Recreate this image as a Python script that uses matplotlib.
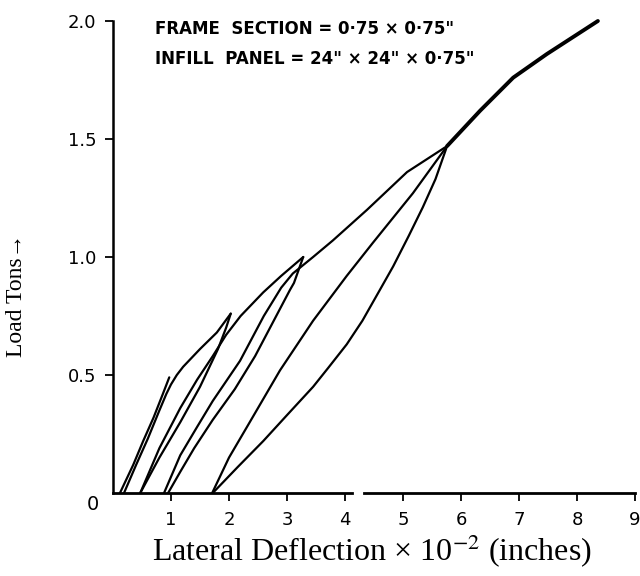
import matplotlib
matplotlib.use('Agg')
import matplotlib.pyplot as plt

plt.rcParams['mathtext.fontset'] = 'stix'

# cyclic load - deflection traces
# x in 10^-2 inches, y in tons
load1_x = [0.12, 0.35, 0.52, 0.70, 0.86, 0.97]
load1_y = [0.0, 0.12, 0.22, 0.32, 0.42, 0.49]

load2_x = [0.19, 0.40, 0.60, 0.80, 0.92, 1.00, 1.10, 1.21, 1.50, 1.79, 2.03]
load2_y = [0.0, 0.12, 0.23, 0.35, 0.42, 0.46, 0.50, 0.535, 0.61, 0.68, 0.76]

unload2_x = [2.03, 1.95, 1.81, 1.50, 1.16, 0.80, 0.47]
unload2_y = [0.76, 0.70, 0.61, 0.45, 0.30, 0.15, 0.0]

load3_x = [0.47, 0.80, 1.16, 1.45, 1.72, 1.95, 2.20, 2.59, 2.90, 3.28]
load3_y = [0.0, 0.19, 0.36, 0.48, 0.58, 0.67, 0.75, 0.85, 0.92, 1.00]

unload3_x = [3.28, 3.12, 3.05, 2.75, 2.45, 2.10, 1.72, 1.40, 1.16, 0.95]
unload3_y = [1.00, 0.89, 0.86, 0.72, 0.58, 0.44, 0.31, 0.19, 0.09, 0.0]

load4_x = [0.88, 1.16, 1.45, 1.72, 2.19, 2.60, 2.90, 3.10, 3.45, 3.79, 4.38, 5.07, 5.76]
load4_y = [0.0, 0.16, 0.28, 0.39, 0.56, 0.75, 0.87, 0.93, 1.00, 1.07, 1.20, 1.36, 1.47]

load5_x = [1.71, 2.00, 2.31, 2.88, 3.45, 4.03, 4.48, 5.17, 5.76]
load5_y = [0.0, 0.15, 0.28, 0.52, 0.73, 0.92, 1.06, 1.27, 1.47]

unload4_x = [1.72, 2.15, 2.59, 3.00, 3.45, 3.71, 4.03, 4.30, 4.60, 4.83,
             5.10, 5.34, 5.56, 5.76]
unload4_y = [0.0, 0.11, 0.22, 0.33, 0.45, 0.53, 0.63, 0.73, 0.86, 0.96,
             1.09, 1.21, 1.33, 1.47]

final_x = [5.76, 6.33, 6.90, 7.48, 8.36]
final_y = [1.47, 1.62, 1.76, 1.86, 2.00]

x_ticks = [1, 2, 3, 4, 5, 6, 7, 8, 9]
y_ticks = [0.5, 1.0, 1.5, 2.0]
y_labels = ['0.5', '1.0', '1.5', '2.0']

fig = plt.figure(figsize=(6.4, 5.76), dpi=100)
ax = fig.add_axes([113 / 640, 1 - 493 / 576, 522 / 640, 472 / 576])
ax.set_xlim(0, 9)
ax.set_ylim(0, 2)
for s in ax.spines.values():
    s.set_visible(False)

curves = [(load1_x, load1_y), (load2_x, load2_y), (unload2_x, unload2_y),
          (load3_x, load3_y), (unload3_x, unload3_y), (load4_x, load4_y),
          (load5_x, load5_y), (unload4_x, unload4_y)]
for cx, cy in curves:
    ax.plot(cx, cy, color='black', lw=1.6, clip_on=False,
            solid_joinstyle='round', solid_capstyle='round')
ax.plot(final_x, final_y, color='black', lw=2.8, clip_on=False,
        solid_joinstyle='round', solid_capstyle='round')

# hand drawn axes (x axis has a break after 4)
ax.plot([0, 0], [0, 2.0], color='black', lw=1.8, clip_on=False)
ax.plot([0, 4.12], [0, 0], color='black', lw=2.0, clip_on=False)
ax.plot([4.32, 9], [0, 0], color='black', lw=2.0, clip_on=False)

ax.set_xticks(x_ticks)
ax.set_xticklabels([str(t) for t in x_ticks], fontsize=13)
ax.set_yticks(y_ticks)
ax.set_yticklabels(y_labels, fontsize=13)
ax.tick_params(axis='both', length=6, width=1.3, direction='out')
ax.tick_params(axis='x', pad=7)
ax.tick_params(axis='y', pad=6)
ax.text(-0.34, -0.05, '0', fontsize=14, ha='center', va='center')

ax.text(0.72, 1.965, 'FRAME  SECTION = 0·75 × 0·75"', fontsize=12,
        fontweight='bold', ha='left', va='center')
ax.text(0.72, 1.84, 'INFILL  PANEL = 24" × 24" × 0·75"', fontsize=12,
        fontweight='bold', ha='left', va='center')

fig.text(372 / 640, 1 - 551 / 576, 'Lateral Deflection × 10$^{-2}$ (inches)',
         family=['Liberation Serif', 'DejaVu Serif'], fontsize=23,
         ha='center', va='center')
fig.text(17 / 640, 1 - 295 / 576, 'Load Tons→',
         family=['Liberation Serif', 'DejaVu Serif'], fontsize=17,
         rotation=90, ha='center', va='center')

fig.savefig('out.png', dpi=100)
